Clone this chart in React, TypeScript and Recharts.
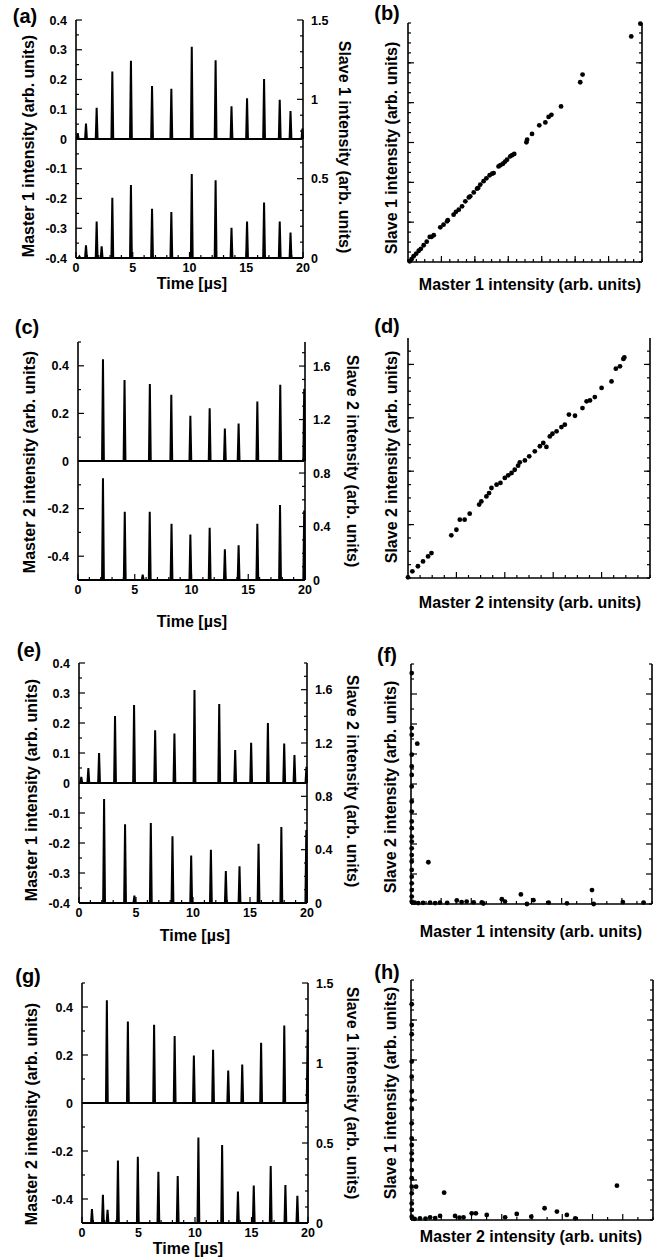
import React from 'react';
import { LineChart, Line, ScatterChart, Scatter, XAxis, YAxis } from 'recharts';

const FONT = '"Liberation Sans", Arial, Helvetica, sans-serif';

// ---------- time traces: pulse times [µs] and peak heights ----------
// (a) Master 1 (left axis) / Slave 1 (right axis)
const aMasterTimes = [0.15, 0.88, 1.82, 3.2, 4.84, 6.7, 8.4, 10.2, 12.3, 13.7, 15.07, 16.57, 17.95, 18.9, 19.95];
const aMasterPeaks = [0.02, 0.052, 0.105, 0.227, 0.263, 0.178, 0.169, 0.31, 0.265, 0.11, 0.137, 0.202, 0.132, 0.094, 0.035];
const aSlaveTimes = [0.3, 0.88, 1.82, 2.26, 3.2, 4.84, 6.7, 8.4, 10.2, 12.3, 13.7, 15.07, 16.57, 17.95, 18.9];
const aSlavePeaks = [0.01, 0.08, 0.23, 0.074, 0.38, 0.46, 0.31, 0.29, 0.53, 0.49, 0.19, 0.23, 0.35, 0.23, 0.16];

// (c) Master 2 / Slave 2
const cMasterTimes = [2.2, 4.1, 6.33, 8.22, 9.9, 11.6, 12.94, 14.15, 15.8, 17.82, 19.93];
const cMasterPeaks = [0.428, 0.34, 0.324, 0.278, 0.19, 0.222, 0.136, 0.157, 0.25, 0.32, 0.303];
const cSlaveTimes = [2.2, 4.12, 5.7, 6.32, 8.24, 9.9, 11.6, 12.94, 14.15, 15.8, 17.8, 19.93];
const cSlavePeaks = [0.76, 0.51, 0.04, 0.51, 0.42, 0.34, 0.39, 0.23, 0.26, 0.42, 0.56, 0.52];

// (e) Master 1 / Slave 2
const eMasterTimes = [0.2, 0.82, 1.76, 3.16, 4.83, 6.68, 8.37, 10.13, 12.3, 13.7, 15.1, 16.57, 18.0, 18.9, 19.95];
const eMasterPeaks = [0.02, 0.05, 0.1, 0.223, 0.26, 0.176, 0.165, 0.31, 0.263, 0.11, 0.134, 0.2, 0.132, 0.093, 0.054];
const eSlaveTimes = [2.2, 4.04, 4.86, 6.3, 8.2, 9.84, 11.57, 12.88, 14.08, 15.75, 17.75, 19.94];
const eSlavePeaks = [0.78, 0.59, 0.055, 0.6, 0.5, 0.356, 0.4, 0.24, 0.276, 0.444, 0.57, 0.547];

// (g) Master 2 / Slave 1
const gMasterTimes = [2.2, 4.06, 6.38, 8.2, 9.9, 11.6, 12.94, 14.18, 15.85, 17.9, 19.97];
const gMasterPeaks = [0.428, 0.34, 0.326, 0.279, 0.198, 0.222, 0.135, 0.16, 0.251, 0.323, 0.307];
const gSlaveTimes = [0.88, 1.85, 2.26, 3.18, 4.94, 6.76, 8.47, 10.3, 12.4, 13.8, 15.2, 16.7, 18.0, 19.06];
const gSlavePeaks = [0.087, 0.176, 0.083, 0.39, 0.414, 0.32, 0.294, 0.534, 0.487, 0.197, 0.234, 0.356, 0.238, 0.17];

// ---------- correlation plots (normalised master, slave) ----------
const bMaster = [0.993, 0.954, 0.746, 0.736, 0.654, 0.613, 0.601, 0.587, 0.561, 0.53, 0.509, 0.506, 0.454, 0.445, 0.437, 0.423, 0.415, 0.406, 0.395, 0.387, 0.366, 0.36, 0.349, 0.335, 0.323, 0.309, 0.3, 0.295, 0.281, 0.266, 0.26, 0.245, 0.231, 0.217, 0.205, 0.195, 0.17, 0.167, 0.152, 0.138, 0.11, 0.1, 0.093, 0.08, 0.067, 0.055, 0.046, 0.035, 0.024, 0.015, 0.007];
const bSlave = [0.997, 0.944, 0.784, 0.752, 0.651, 0.616, 0.607, 0.584, 0.572, 0.536, 0.512, 0.501, 0.452, 0.447, 0.442, 0.428, 0.42, 0.411, 0.405, 0.4, 0.372, 0.37, 0.363, 0.35, 0.338, 0.324, 0.31, 0.307, 0.291, 0.275, 0.27, 0.254, 0.233, 0.219, 0.21, 0.198, 0.175, 0.17, 0.156, 0.145, 0.112, 0.105, 0.105, 0.085, 0.07, 0.055, 0.047, 0.035, 0.024, 0.012, 0.003];

const dMaster = [0.89, 0.894, 0.876, 0.859, 0.841, 0.8, 0.772, 0.752, 0.738, 0.721, 0.69, 0.665, 0.648, 0.634, 0.614, 0.597, 0.586, 0.559, 0.572, 0.545, 0.524, 0.501, 0.483, 0.462, 0.455, 0.441, 0.428, 0.414, 0.4, 0.382, 0.366, 0.345, 0.335, 0.324, 0.303, 0.294, 0.255, 0.234, 0.214, 0.2, 0.179, 0.097, 0.083, 0.062, 0.041, 0.018, 0.0];
const dSlave = [0.913, 0.919, 0.882, 0.872, 0.819, 0.792, 0.754, 0.74, 0.736, 0.708, 0.676, 0.681, 0.639, 0.629, 0.611, 0.601, 0.59, 0.5625, 0.546, 0.549, 0.528, 0.507, 0.49, 0.482, 0.468, 0.451, 0.4375, 0.428, 0.417, 0.396, 0.389, 0.375, 0.354, 0.34, 0.319, 0.306, 0.268, 0.243, 0.243, 0.201, 0.178, 0.104, 0.09, 0.069, 0.049, 0.028, 0.003];

const fMaster = [0.003, 0.003, 0.003, 0.003, 0.003, 0.003, 0.003, 0.003, 0.003, 0.003, 0.003, 0.003, 0.003, 0.003, 0.003, 0.003, 0.003, 0.003, 0.003, 0.003, 0.003, 0.003, 0.026, 0.072, 0.456, 0.751, 0.015, 0.03, 0.05, 0.079, 0.1, 0.12, 0.15, 0.19, 0.21, 0.231, 0.26, 0.294, 0.3, 0.377, 0.39, 0.481, 0.508, 0.571, 0.647, 0.758, 0.879, 0.965];
const fSlave = [0.962, 0.733, 0.705, 0.622, 0.573, 0.538, 0.49, 0.427, 0.385, 0.344, 0.316, 0.281, 0.26, 0.232, 0.204, 0.177, 0.142, 0.114, 0.086, 0.058, 0.031, 0.01, 0.668, 0.174, 0.04, 0.058, 0.006, 0.004, 0.005, 0.006, 0.004, 0.006, 0.005, 0.015, 0.008, 0.01, 0.007, 0.007, 0.002, 0.02, 0.01, 0.0, 0.016, 0.006, 0.003, 0.0, 0.008, 0.006];

const hMaster = [0.003, 0.003, 0.003, 0.003, 0.003, 0.003, 0.003, 0.003, 0.003, 0.003, 0.003, 0.003, 0.003, 0.003, 0.003, 0.003, 0.003, 0.003, 0.003, 0.003, 0.021, 0.137, 0.851, 0.552, 0.603, 0.015, 0.037, 0.06, 0.079, 0.1, 0.12, 0.182, 0.2, 0.217, 0.251, 0.268, 0.313, 0.389, 0.437, 0.497, 0.644, 0.679];
const hSlave = [0.899, 0.8125, 0.774, 0.66, 0.597, 0.535, 0.5, 0.465, 0.403, 0.34, 0.3125, 0.278, 0.25, 0.208, 0.174, 0.139, 0.111, 0.069, 0.042, 0.014, 0.139, 0.114, 0.143, 0.049, 0.035, 0.005, 0.007, 0.006, 0.011, 0.008, 0.017, 0.017, 0.01, 0.011, 0.028, 0.028, 0.021, 0.011, 0.025, 0.014, 0.021, 0.007];

// ---------- helpers ----------
const PULSE_HALF = 0.08;
function pulseTrace(times: number[], peaks: number[]) {
  const pts = [{ t: 0, v: 0 }];
  times.forEach((t, i) => {
    pts.push({ t: Math.max(0, t - PULSE_HALF), v: 0 });
    pts.push({ t, v: peaks[i] });
    pts.push({ t: Math.min(20, t + PULSE_HALF), v: 0 });
  });
  pts.push({ t: 20, v: 0 });
  return pts;
}
const pairs = (xs: number[], ys: number[]) => xs.map((x, i) => ({ x, y: ys[i] }));

const near = (list: number[], v: number) => list.some((m) => Math.abs(m - v) < 1e-6);
const fmt = (v: number) => String(Math.round(v * 100) / 100);
function withMinor(major: number[], lo: number, hi: number, step: number) {
  const out = [...major];
  for (let v = lo; v <= hi + 1e-9; v += step) {
    const r = Math.round(v * 10000) / 10000;
    if (!near(out, r)) out.push(r);
  }
  return out.sort((a, b) => a - b);
}

type Side = 'left' | 'right' | 'top' | 'bottom';
const tickText = { fontFamily: FONT, fontWeight: 700, fontSize: 12.5, fill: '#000' } as const;

function makeTick(side: Side, major: number[], labels: boolean) {
  return (props: any) => {
    const { x, y, payload } = props;
    const v = payload.value as number;
    const isMajor = near(major, v);
    const len = isMajor ? 6 : 3;
    const lbl = labels && isMajor ? fmt(v) : null;
    const ln = { stroke: '#000', strokeWidth: 1.2 };
    if (side === 'bottom')
      return (
        <g>
          <line x1={x} y1={y} x2={x} y2={y - len} {...ln} />
          {lbl && <text x={x} y={y + 14} textAnchor="middle" {...tickText}>{lbl}</text>}
        </g>
      );
    if (side === 'top')
      return (
        <g>
          <line x1={x} y1={y} x2={x} y2={y + len} {...ln} />
        </g>
      );
    if (side === 'left')
      return (
        <g>
          <line x1={x} y1={y} x2={x + len} y2={y} {...ln} />
          {lbl && <text x={x - 9} y={y + 4.5} textAnchor="end" {...tickText}>{lbl}</text>}
        </g>
      );
    return (
      <g>
        <line x1={x} y1={y} x2={x - len} y2={y} {...ln} />
        {lbl && <text x={x + 8} y={y + 4.5} textAnchor="start" {...tickText}>{lbl}</text>}
      </g>
    );
  };
}

const axisLine = { stroke: '#000', strokeWidth: 1.6 };
const X_MAJOR = [0, 5, 10, 15, 20];
const X_TICKS = withMinor(X_MAJOR, 0, 20, 1);

type Box = { L: number; R: number; T: number; B: number };

function TimePanel(p: Box & {
  master: { t: number; v: number }[];
  slave: { t: number; v: number }[];
  leftDomain: [number, number];
  leftMajor: number[];
  leftStep: number;
  rightDomain: [number, number];
  rightMajor: number[];
  rightStep: number;
}) {
  const W = 60 + (p.R - p.L) + 50;
  const H = 5 + (p.B - p.T) + 30;
  const leftTicks = withMinor(p.leftMajor, p.leftDomain[0], p.leftDomain[1], p.leftStep);
  const rightTicks = withMinor(p.rightMajor, p.rightDomain[0], p.rightDomain[1], p.rightStep);
  return (
    <div style={{ position: 'absolute', left: p.L - 60, top: p.T - 5 }}>
      <LineChart width={W} height={H} margin={{ top: 5, right: 0, bottom: 0, left: 0 }}>
        <XAxis xAxisId="b" type="number" dataKey="t" domain={[0, 20]} ticks={X_TICKS} interval={0}
          tickSize={0} tickMargin={0} tickLine={false} axisLine={axisLine} height={30}
          tick={makeTick('bottom', X_MAJOR, true)} />
        <XAxis xAxisId="t" orientation="top" type="number" dataKey="t" domain={[0, 20]} allowDataOverflow
          ticks={X_TICKS} interval={0} tickSize={0} tickMargin={0} tickLine={false} axisLine={axisLine}
          height={0} tick={makeTick('top', X_MAJOR, false)} />
        <YAxis yAxisId="l" type="number" domain={p.leftDomain} ticks={leftTicks} interval={0}
          tickSize={0} tickMargin={0} tickLine={false} axisLine={axisLine} width={60}
          tick={makeTick('left', p.leftMajor, true)} />
        <YAxis yAxisId="r" orientation="right" type="number" domain={p.rightDomain} ticks={rightTicks}
          interval={0} tickSize={0} tickMargin={0} tickLine={false} axisLine={axisLine} width={50}
          tick={makeTick('right', p.rightMajor, true)} />
        <Line xAxisId="b" yAxisId="l" data={p.master} dataKey="v" type="linear" stroke="#000"
          strokeWidth={2} dot={false} isAnimationActive={false} />
        <Line xAxisId="b" yAxisId="r" data={p.slave} dataKey="v" type="linear" stroke="#000"
          strokeWidth={2} dot={false} isAnimationActive={false} />
      </LineChart>
    </div>
  );
}

const dotShape = (props: any) => <circle cx={props.cx} cy={props.cy} r={2.4} fill="#000" />;

function ScatterPanel(p: Box & {
  data: { x: number; y: number }[];
  xMajor: number[];
  xStep: number;
  yMajor: number[];
  yStep: number;
}) {
  const W = 60 + (p.R - p.L) + 10;
  const H = 5 + (p.B - p.T) + 10;
  const xt = withMinor(p.xMajor, 0, 1, p.xStep);
  const yt = withMinor(p.yMajor, 0, 1, p.yStep);
  return (
    <div style={{ position: 'absolute', left: p.L - 60, top: p.T - 5 }}>
      <ScatterChart width={W} height={H} margin={{ top: 5, right: 0, bottom: 0, left: 0 }}>
        <XAxis xAxisId="b" type="number" dataKey="x" domain={[0, 1]} ticks={xt} interval={0}
          tickSize={0} tickMargin={0} tickLine={false} axisLine={axisLine} height={10}
          tick={makeTick('bottom', p.xMajor, false)} />
        <XAxis xAxisId="t" orientation="top" type="number" domain={[0, 1]} allowDataOverflow ticks={xt}
          interval={0} tickSize={0} tickMargin={0} tickLine={false} axisLine={axisLine} height={0}
          tick={makeTick('top', p.xMajor, false)} />
        <YAxis yAxisId="l" type="number" dataKey="y" domain={[0, 1]} ticks={yt} interval={0}
          tickSize={0} tickMargin={0} tickLine={false} axisLine={axisLine} width={60}
          tick={makeTick('left', p.yMajor, false)} />
        <YAxis yAxisId="r" orientation="right" type="number" domain={[0, 1]} allowDataOverflow ticks={yt}
          interval={0} tickSize={0} tickMargin={0} tickLine={false} axisLine={axisLine} width={10}
          tick={makeTick('right', p.yMajor, false)} />
        <Scatter xAxisId="b" yAxisId="l" data={p.data} shape={dotShape} isAnimationActive={false} />
      </ScatterChart>
    </div>
  );
}

function Txt({ x, y, rot = 0, size = 16, children }: { x: number; y: number; rot?: number; size?: number; children: React.ReactNode }) {
  return (
    <div style={{
      position: 'absolute', left: x, top: y, transform: `translate(-50%, -50%) rotate(${rot}deg)`,
      whiteSpace: 'nowrap', fontFamily: FONT, fontWeight: 700, fontSize: size, lineHeight: 1, color: '#000',
    }}>
      {children}
    </div>
  );
}

const sixths = [1 / 6, 2 / 6, 3 / 6, 4 / 6, 5 / 6];
const sevenths = [1 / 7, 2 / 7, 3 / 7, 4 / 7, 5 / 7, 6 / 7];
const eighths = [0.125, 0.25, 0.375, 0.5, 0.625, 0.75, 0.875];

export default function App() {
  return (
    <div style={{ position: 'absolute', left: 0, top: 0, width: 668, height: 1258, background: '#fff', overflow: 'hidden' }}>
      {/* (a) */}
      <TimePanel L={76} R={303} T={20} B={258}
        master={pulseTrace(aMasterTimes, aMasterPeaks)} slave={pulseTrace(aSlaveTimes, aSlavePeaks)}
        leftDomain={[-0.4, 0.4]} leftMajor={[-0.4, -0.3, -0.2, -0.1, 0, 0.1, 0.2, 0.3, 0.4]} leftStep={0.05}
        rightDomain={[0, 1.5]} rightMajor={[0, 0.5, 1, 1.5]} rightStep={0.1} />
      {/* (b) */}
      <ScatterPanel L={408} R={642} T={23} B={262} data={pairs(bMaster, bSlave)}
        xMajor={sevenths} xStep={1 / 28} yMajor={sixths} yStep={1 / 24} />
      {/* (c) */}
      <TimePanel L={78} R={305} T={342} B={580}
        master={pulseTrace(cMasterTimes, cMasterPeaks)} slave={pulseTrace(cSlaveTimes, cSlavePeaks)}
        leftDomain={[-0.5, 0.5]} leftMajor={[-0.4, -0.2, 0, 0.2, 0.4]} leftStep={0.1}
        rightDomain={[0, 1.78]} rightMajor={[0, 0.4, 0.8, 1.2, 1.6]} rightStep={0.1} />
      {/* (d) */}
      <ScatterPanel L={408} R={650} T={338} B={578} data={pairs(dMaster, dSlave)}
        xMajor={[0.2, 0.4, 0.6, 0.8]} xStep={0.05} yMajor={[0.2225, 0.445, 0.6675, 0.89]} yStep={0.0556} />
      {/* (e) */}
      <TimePanel L={79} R={307} T={663} B={903}
        master={pulseTrace(eMasterTimes, eMasterPeaks)} slave={pulseTrace(eSlaveTimes, eSlavePeaks)}
        leftDomain={[-0.4, 0.4]} leftMajor={[-0.4, -0.3, -0.2, -0.1, 0, 0.1, 0.2, 0.3, 0.4]} leftStep={0.05}
        rightDomain={[0, 1.8]} rightMajor={[0, 0.4, 0.8, 1.2, 1.6]} rightStep={0.1} />
      {/* (f) */}
      <ScatterPanel L={411} R={652} T={664} B={904} data={pairs(fMaster, fSlave)}
        xMajor={eighths} xStep={0.0625} yMajor={eighths} yStep={0.0625} />
      {/* (g) */}
      <TimePanel L={82} R={308} T={983} B={1223}
        master={pulseTrace(gMasterTimes, gMasterPeaks)} slave={pulseTrace(gSlaveTimes, gSlavePeaks)}
        leftDomain={[-0.5, 0.5]} leftMajor={[-0.4, -0.2, 0, 0.2, 0.4]} leftStep={0.1}
        rightDomain={[0, 1.5]} rightMajor={[0, 0.5, 1, 1.5]} rightStep={0.1} />
      {/* (h) */}
      <ScatterPanel L={411} R={653} T={980} B={1220} data={pairs(hMaster, hSlave)}
        xMajor={eighths} xStep={0.0625} yMajor={sixths} yStep={1 / 24} />

      {/* panel letters */}
      <Txt x={25} y={16} size={20}>(a)</Txt>
      <Txt x={387} y={13} size={20}>(b)</Txt>
      <Txt x={27} y={327} size={20}>(c)</Txt>
      <Txt x={387} y={326} size={20}>(d)</Txt>
      <Txt x={29} y={650} size={20}>(e)</Txt>
      <Txt x={387} y={655} size={20}>(f)</Txt>
      <Txt x={28} y={976} size={20}>(g)</Txt>
      <Txt x={387} y={972} size={20}>(h)</Txt>

      {/* left column axis titles */}
      <Txt x={29} y={146} rot={-90}>Master 1 intensity (arb. units)</Txt>
      <Txt x={344} y={147} rot={90}>Slave 1 intensity (arb. units)</Txt>
      <Txt x={192} y={284}>Time [µs]</Txt>

      <Txt x={30} y={462} rot={-90}>Master 2 intensity (arb. units)</Txt>
      <Txt x={352} y={461} rot={90}>Slave 2 intensity (arb. units)</Txt>
      <Txt x={192} y={622}>Time [µs]</Txt>

      <Txt x={32} y={790} rot={-90}>Master 1 intensity (arb. units)</Txt>
      <Txt x={352} y={781} rot={90}>Slave 2 intensity (arb. units)</Txt>
      <Txt x={195} y={936}>Time [µs]</Txt>

      <Txt x={32} y={1114} rot={-90}>Master 2 intensity (arb. units)</Txt>
      <Txt x={352} y={1093} rot={90}>Slave 1 intensity (arb. units)</Txt>
      <Txt x={188} y={1249}>Time [µs]</Txt>

      {/* right column axis titles */}
      <Txt x={392} y={148} rot={-90}>Slave 1 intensity (arb. units)</Txt>
      <Txt x={530} y={285}>Master 1 intensity (arb. units)</Txt>

      <Txt x={392} y={457} rot={-90}>Slave 2 intensity (arb. units)</Txt>
      <Txt x={530} y={603}>Master 2 intensity (arb. units)</Txt>

      <Txt x={391} y={787} rot={-90}>Slave 2 intensity (arb. units)</Txt>
      <Txt x={531} y={932}>Master 1 intensity (arb. units)</Txt>

      <Txt x={391} y={1093} rot={-90}>Slave 1 intensity (arb. units)</Txt>
      <Txt x={531} y={1237}>Master 2 intensity (arb. units)</Txt>
    </div>
  );
}
